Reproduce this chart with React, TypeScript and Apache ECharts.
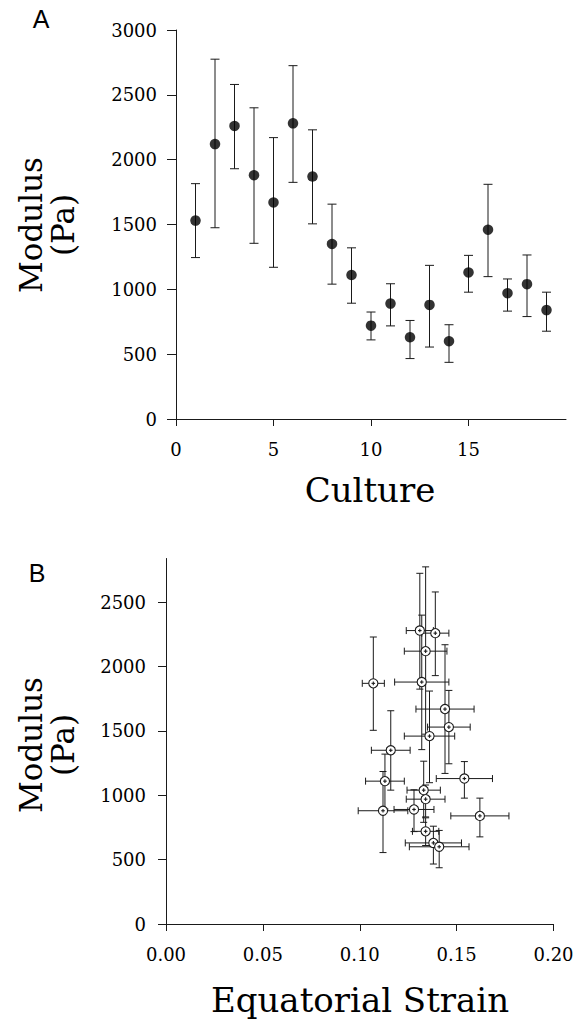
import React, { useEffect, useRef } from "react";
import * as echarts from "echarts";

// ---- data ----
const cultures = [1, 2, 3, 4, 5, 6, 7, 8, 9, 10, 11, 12, 13, 14, 15, 16, 17, 18, 19];
const modulus = [1530, 2120, 2260, 1880, 1670, 2280, 1870, 1350, 1110, 720, 890, 630, 880, 600, 1130, 1460, 970, 1040, 840];
const modulusLow = [1245, 1475, 1930, 1355, 1170, 1825, 1505, 1040, 893, 610, 718, 466, 555, 437, 978, 1098, 832, 790, 677];
const modulusHigh = [1815, 2775, 2580, 2400, 2170, 2725, 2230, 1657, 1320, 825, 1043, 760, 1185, 727, 1262, 1810, 1080, 1265, 978];
const strain = [0.146, 0.134, 0.139, 0.132, 0.144, 0.131, 0.107, 0.116, 0.113, 0.134, 0.128, 0.138, 0.112, 0.141, 0.154, 0.136, 0.134, 0.133, 0.162];
const strainErr = [0.011, 0.011, 0.007, 0.014, 0.015, 0.007, 0.0057, 0.010, 0.010, 0.0068, 0.0103, 0.0145, 0.0128, 0.0154, 0.0145, 0.013, 0.010, 0.0086, 0.015];

const yTicksA = [0, 500, 1000, 1500, 2000, 2500, 3000];
const xTicksA = [0, 5, 10, 15];
const yTicksB = [0, 500, 1000, 1500, 2000, 2500];
const xTicksB = [0, 0.05, 0.1, 0.15, 0.2];

const SERIF = "DejaVu Serif";
const INK = "#1a1a1a";

export default function App() {
  const ref = useRef<HTMLDivElement>(null);

  useEffect(() => {
    if (!ref.current) return;
    const chart = echarts.init(ref.current, null, { renderer: "svg" });

    const dataA = cultures.map((c, i) => [c, modulus[i], modulusLow[i], modulusHigh[i]]);
    const dataB = cultures.map((c, i) => [
      strain[i],
      modulus[i],
      strain[i] - strainErr[i],
      strain[i] + strainErr[i],
      modulusLow[i],
      modulusHigh[i],
    ]);

    const axisLine = { show: true, lineStyle: { color: INK, width: 1 } };
    const labelStyle = { color: "#000", fontFamily: SERIF, fontSize: 18 };
    const plain = (v: number) => String(v);

    const lineEl = (x1: number, y1: number, x2: number, y2: number) => ({
      type: "line",
      shape: { x1, y1, x2, y2 },
      style: { stroke: INK, lineWidth: 1 },
    });

    const option: any = {
      animation: false,
      backgroundColor: "#ffffff",
      grid: [
        { left: 176, right: 20, top: 30, bottom: 606 },
        { left: 166, right: 32.5, top: 558.5, bottom: 101 },
      ],
      xAxis: [
        {
          type: "value",
          gridIndex: 0,
          min: 0,
          max: 20,
          axisLine,
          axisTick: { show: true, length: 7, customValues: xTicksA, lineStyle: { color: INK } },
          axisLabel: { ...labelStyle, margin: 21, customValues: xTicksA, formatter: plain },
          splitLine: { show: false },
        },
        {
          type: "value",
          gridIndex: 1,
          min: 0,
          max: 0.2,
          axisLine,
          axisTick: { show: true, length: 7, customValues: xTicksB, lineStyle: { color: INK } },
          axisLabel: {
            ...labelStyle,
            margin: 21,
            customValues: xTicksB,
            formatter: (v: number) => v.toFixed(2),
          },
          splitLine: { show: false },
        },
      ],
      yAxis: [
        {
          type: "value",
          gridIndex: 0,
          min: 0,
          max: 3000,
          axisLine,
          axisTick: { show: true, length: 9, customValues: yTicksA, lineStyle: { color: INK } },
          axisLabel: { ...labelStyle, margin: 19, customValues: yTicksA, formatter: plain },
          splitLine: { show: false },
        },
        {
          type: "value",
          gridIndex: 1,
          min: 0,
          max: 2840,
          axisLine,
          axisTick: { show: true, length: 8, customValues: yTicksB, lineStyle: { color: INK } },
          axisLabel: { ...labelStyle, margin: 20, customValues: yTicksB, formatter: plain },
          splitLine: { show: false },
        },
      ],
      series: [
        {
          type: "custom",
          xAxisIndex: 0,
          yAxisIndex: 0,
          data: dataA,
          encode: { x: 0, y: 1 },
          z: 2,
          renderItem: (params: any, api: any) => {
            const x = api.value(0);
            const lo = api.coord([x, api.value(2)]);
            const hi = api.coord([x, api.value(3)]);
            const w = 4.5;
            return {
              type: "group",
              children: [
                lineEl(lo[0], lo[1], hi[0], hi[1]),
                lineEl(lo[0] - w, lo[1], lo[0] + w, lo[1]),
                lineEl(hi[0] - w, hi[1], hi[0] + w, hi[1]),
              ],
            };
          },
        },
        {
          type: "scatter",
          xAxisIndex: 0,
          yAxisIndex: 0,
          data: cultures.map((c, i) => [c, modulus[i]]),
          symbol: "circle",
          symbolSize: 10.5,
          itemStyle: { color: "#000" },
          z: 3,
        },
        {
          type: "custom",
          xAxisIndex: 1,
          yAxisIndex: 1,
          data: dataB,
          encode: { x: 0, y: 1 },
          z: 2,
          renderItem: (params: any, api: any) => {
            const x = api.value(0);
            const y = api.value(1);
            const l = api.coord([api.value(2), y]);
            const r = api.coord([api.value(3), y]);
            const b = api.coord([x, api.value(4)]);
            const t = api.coord([x, api.value(5)]);
            const w = 3.5;
            return {
              type: "group",
              children: [
                lineEl(b[0], b[1], t[0], t[1]),
                lineEl(b[0] - w, b[1], b[0] + w, b[1]),
                lineEl(t[0] - w, t[1], t[0] + w, t[1]),
                lineEl(l[0], l[1], r[0], r[1]),
                lineEl(l[0], l[1] - w, l[0], l[1] + w),
                lineEl(r[0], r[1] - w, r[0], r[1] + w),
              ],
            };
          },
        },
        {
          type: "custom",
          xAxisIndex: 1,
          yAxisIndex: 1,
          data: dataB,
          encode: { x: 0, y: 1 },
          z: 3,
          renderItem: (params: any, api: any) => {
            const p = api.coord([api.value(0), api.value(1)]);
            return {
              type: "group",
              children: [
                {
                  type: "circle",
                  shape: { cx: p[0], cy: p[1], r: 4.6 },
                  style: { fill: "#fff", stroke: INK, lineWidth: 1.1 },
                },
                {
                  type: "line",
                  shape: { x1: p[0] - 1.8, y1: p[1], x2: p[0] + 1.8, y2: p[1] },
                  style: { stroke: INK, lineWidth: 1.1 },
                },
                {
                  type: "line",
                  shape: { x1: p[0], y1: p[1] - 1.8, x2: p[0], y2: p[1] + 1.8 },
                  style: { stroke: INK, lineWidth: 1.1 },
                },
              ],
            };
          },
        },
      ],
      graphic: [
        {
          type: "text",
          x: 41,
          y: 19,
          style: { text: "A", fontFamily: "Liberation Sans", fontSize: 25, fill: "#000", align: "center", verticalAlign: "middle" },
        },
        {
          type: "text",
          x: 37,
          y: 573,
          style: { text: "B", fontFamily: "Liberation Sans", fontSize: 25, fill: "#000", align: "center", verticalAlign: "middle" },
        },
        {
          type: "text",
          x: 31,
          y: 225,
          rotation: Math.PI / 2,
          style: { text: "Modulus", fontFamily: SERIF, fontSize: 31, fill: "#000", align: "center", verticalAlign: "middle" },
        },
        {
          type: "text",
          x: 63,
          y: 225,
          rotation: Math.PI / 2,
          style: { text: "(Pa)", fontFamily: SERIF, fontSize: 31, fill: "#000", align: "center", verticalAlign: "middle" },
        },
        {
          type: "text",
          x: 31,
          y: 745,
          rotation: Math.PI / 2,
          style: { text: "Modulus", fontFamily: SERIF, fontSize: 31, fill: "#000", align: "center", verticalAlign: "middle" },
        },
        {
          type: "text",
          x: 63,
          y: 745,
          rotation: Math.PI / 2,
          style: { text: "(Pa)", fontFamily: SERIF, fontSize: 31, fill: "#000", align: "center", verticalAlign: "middle" },
        },
        {
          type: "text",
          x: 370,
          y: 490,
          style: { text: "Culture", fontFamily: SERIF, fontSize: 34, fill: "#000", align: "center", verticalAlign: "middle" },
        },
        {
          type: "text",
          x: 360,
          y: 1000,
          style: { text: "Equatorial Strain", fontFamily: SERIF, fontSize: 34, fill: "#000", align: "center", verticalAlign: "middle" },
        },
      ],
    };

    chart.setOption(option);
    return () => chart.dispose();
  }, []);

  return (
    <div
      ref={ref}
      style={{ position: "absolute", left: 0, top: 0, width: 586, height: 1025, background: "#fff" }}
    />
  );
}
